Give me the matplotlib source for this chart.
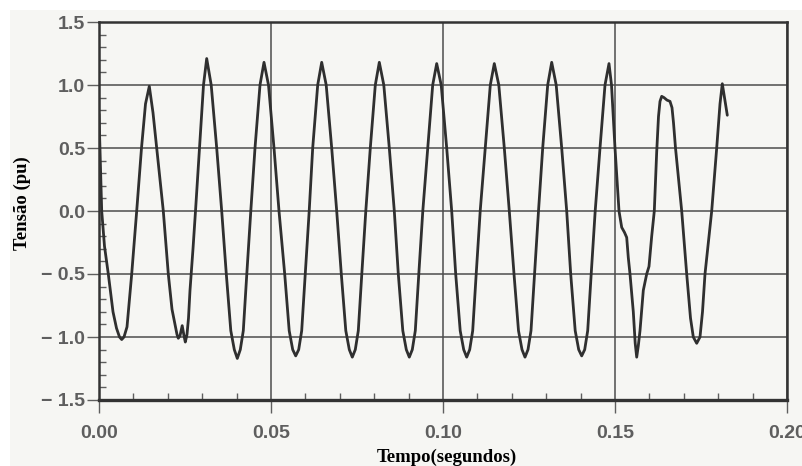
import numpy as np
import matplotlib
matplotlib.use("Agg")
import matplotlib.pyplot as plt
from matplotlib.patches import Rectangle
from matplotlib.ticker import FixedLocator, MultipleLocator

# ---------------- data ----------------
time_s = [
    0.000000, 0.000378, 0.000785, 0.001599, 0.002703, 0.004070, 0.005087, 0.005959,
    0.006599, 0.007267, 0.008140, 0.009506, 0.010959, 0.012355, 0.013517, 0.014622,
    0.015698, 0.016773, 0.018692, 0.020145, 0.021221, 0.022093, 0.022674, 0.023052,
    0.023547, 0.024186, 0.024709, 0.025087, 0.025581, 0.026017, 0.026453, 0.027326,
    0.028052, 0.029215, 0.030378, 0.031308,
    0.032616, 0.034215, 0.035669, 0.037006, 0.038314, 0.039331, 0.040203,
    0.041076, 0.041948, 0.042965, 0.044128, 0.045349, 0.046802, 0.047965,
    0.049273, 0.050872, 0.052326, 0.053983, 0.055291, 0.056308, 0.057180,
    0.058052, 0.058924, 0.059942, 0.061105, 0.062122, 0.063576, 0.064738,
    0.066047, 0.067645, 0.069099, 0.070436, 0.071744, 0.072762, 0.073634,
    0.074506, 0.075378, 0.076395, 0.077558, 0.078866, 0.080320, 0.081483,
    0.082791, 0.084390, 0.085843, 0.087006, 0.088314, 0.089331, 0.090203,
    0.091076, 0.091948, 0.092965, 0.094128, 0.095552, 0.097006, 0.098169,
    0.099477, 0.101076, 0.102529, 0.103692, 0.105000, 0.106017, 0.106890,
    0.107762, 0.108634, 0.109651, 0.110814, 0.112297, 0.113750, 0.114913,
    0.116221, 0.117820, 0.119273, 0.120640, 0.121948, 0.122965, 0.123837,
    0.124709, 0.125581, 0.126599, 0.127762, 0.128983, 0.130436, 0.131599,
    0.132907, 0.134506, 0.135959, 0.137122, 0.138430, 0.139448, 0.140320,
    0.141192, 0.142064, 0.143081, 0.144244, 0.145640, 0.147093, 0.148256,
    0.148983, 0.150000, 0.151163, 0.151948, 0.152762, 0.153401, 0.153866, 0.154360,
    0.155320, 0.155872, 0.156308, 0.156773, 0.157267, 0.158227, 0.159215, 0.159884,
    0.160669, 0.161424, 0.162122, 0.162645, 0.163081, 0.163576, 0.164244, 0.165116,
    0.165988, 0.166570, 0.167006, 0.167587, 0.169390, 0.170843, 0.171948, 0.172762,
    0.173750, 0.174709, 0.175436, 0.176163, 0.178110, 0.179564, 0.180523, 0.181192,
    0.181831, 0.182645,
]

voltage_pu = [
    0.77, 0.40, 0.00, -0.28, -0.50, -0.80, -0.93, -1.00,
    -1.02, -1.00, -0.92, -0.50, 0.00, 0.50, 0.85, 0.99,
    0.78, 0.50, 0.00, -0.50, -0.78, -0.90, -0.98, -1.01,
    -0.99, -0.91, -0.99, -1.04, -0.98, -0.85, -0.63, -0.30,
    0.00, 0.50, 1.00, 1.21,
    1.00, 0.50, 0.00, -0.50, -0.95, -1.10, -1.17,
    -1.10, -0.95, -0.50, 0.00, 0.50, 1.00, 1.18,
    1.00, 0.50, 0.00, -0.50, -0.95, -1.10, -1.15,
    -1.10, -0.95, -0.50, 0.00, 0.50, 1.00, 1.18,
    1.00, 0.50, 0.00, -0.50, -0.95, -1.10, -1.16,
    -1.10, -0.95, -0.50, 0.00, 0.50, 1.00, 1.18,
    1.00, 0.50, 0.00, -0.50, -0.95, -1.10, -1.16,
    -1.10, -0.95, -0.50, 0.00, 0.50, 1.00, 1.17,
    1.00, 0.50, 0.00, -0.50, -0.95, -1.10, -1.16,
    -1.10, -0.95, -0.50, 0.00, 0.50, 1.00, 1.17,
    1.00, 0.50, 0.00, -0.50, -0.95, -1.10, -1.16,
    -1.10, -0.95, -0.50, 0.00, 0.50, 1.00, 1.18,
    1.00, 0.50, 0.00, -0.50, -0.95, -1.10, -1.15,
    -1.10, -0.95, -0.50, 0.00, 0.50, 1.00, 1.17,
    1.00, 0.50, 0.00, -0.13, -0.17, -0.21, -0.37, -0.50,
    -0.80, -1.05, -1.16, -1.07, -0.95, -0.63, -0.50, -0.44,
    -0.20, 0.00, 0.47, 0.75, 0.87, 0.91, 0.90, 0.88,
    0.87, 0.82, 0.70, 0.50, 0.00, -0.50, -0.85, -1.00,
    -1.05, -1.00, -0.80, -0.50, 0.00, 0.50, 0.85, 1.01,
    0.90, 0.76,
]

x_ticks = [0.00, 0.05, 0.10, 0.15, 0.20]
x_tick_labels = ["0.00", "0.05", "0.10", "0.15", "0.20"]
y_ticks = [-1.5, -1.0, -0.5, 0.0, 0.5, 1.0, 1.5]
y_tick_labels = ["\u2212 1.5", "\u2212 1.0", "\u2212 0.5", "0.0", "0.5", "1.0", "1.5"]

x_label = "Tempo(segundos)"
y_label = "Tensão (pu)"

# ---------------- styling ----------------
paper = "#f6f6f3"
ink = "#2f2f2f"
grid_c = "#4d4d4d"
tick_c = "#5e5e5e"

fig = plt.figure(figsize=(8.03, 4.66), dpi=100, facecolor="white")
fig.patches.append(Rectangle((10 / 803, 0), 1, (466 - 10) / 466,
                             transform=fig.transFigure, facecolor=paper,
                             edgecolor="none", zorder=-10))

ax = fig.add_axes([99 / 803, (466 - 400) / 466, 688 / 803, 378 / 466])
ax.set_facecolor(paper)

ax.plot(time_s, voltage_pu, color=ink, lw=2.0, solid_joinstyle="round",
        solid_capstyle="round", zorder=3)

ax.set_xlim(x_ticks[0], x_ticks[-1])
ax.set_ylim(y_ticks[0], y_ticks[-1])

ax.xaxis.set_major_locator(FixedLocator(x_ticks))
ax.yaxis.set_major_locator(FixedLocator(y_ticks))
ax.set_xticklabels(x_tick_labels)
ax.set_yticklabels(y_tick_labels)
ax.xaxis.set_minor_locator(MultipleLocator(0.01))
ax.yaxis.set_minor_locator(MultipleLocator(0.1))

ax.grid(True, which="major", color=grid_c, lw=1.1, zorder=1)

for s in ax.spines.values():
    s.set_color("#333333")
    s.set_linewidth(1.8)
    s.set_zorder(4)
ax.spines["bottom"].set_linewidth(2.4)

ax.tick_params(which="major", direction="out", length=9, width=1.0,
               color=tick_c, labelcolor=tick_c)
ax.tick_params(which="minor", direction="in", length=5, width=1.0, color=tick_c)
ax.tick_params(axis="y", which="major", pad=1)
ax.tick_params(axis="x", which="major", pad=9)

for lab in ax.get_xticklabels() + ax.get_yticklabels():
    lab.set_fontfamily("Liberation Sans")
    lab.set_fontweight("bold")
    lab.set_fontsize(14)

ax.set_xlabel(x_label, fontfamily="Liberation Serif", fontweight="bold",
              fontsize=13.5, color="black")
ax.set_ylabel(y_label, fontfamily="Liberation Serif", fontweight="bold",
              fontsize=13.5, color="black")
ax.xaxis.set_label_coords(0.505, -0.128)
ax.yaxis.set_label_coords(-0.099, 0.52)

fig.savefig("out.png", dpi=100, facecolor=fig.get_facecolor())
